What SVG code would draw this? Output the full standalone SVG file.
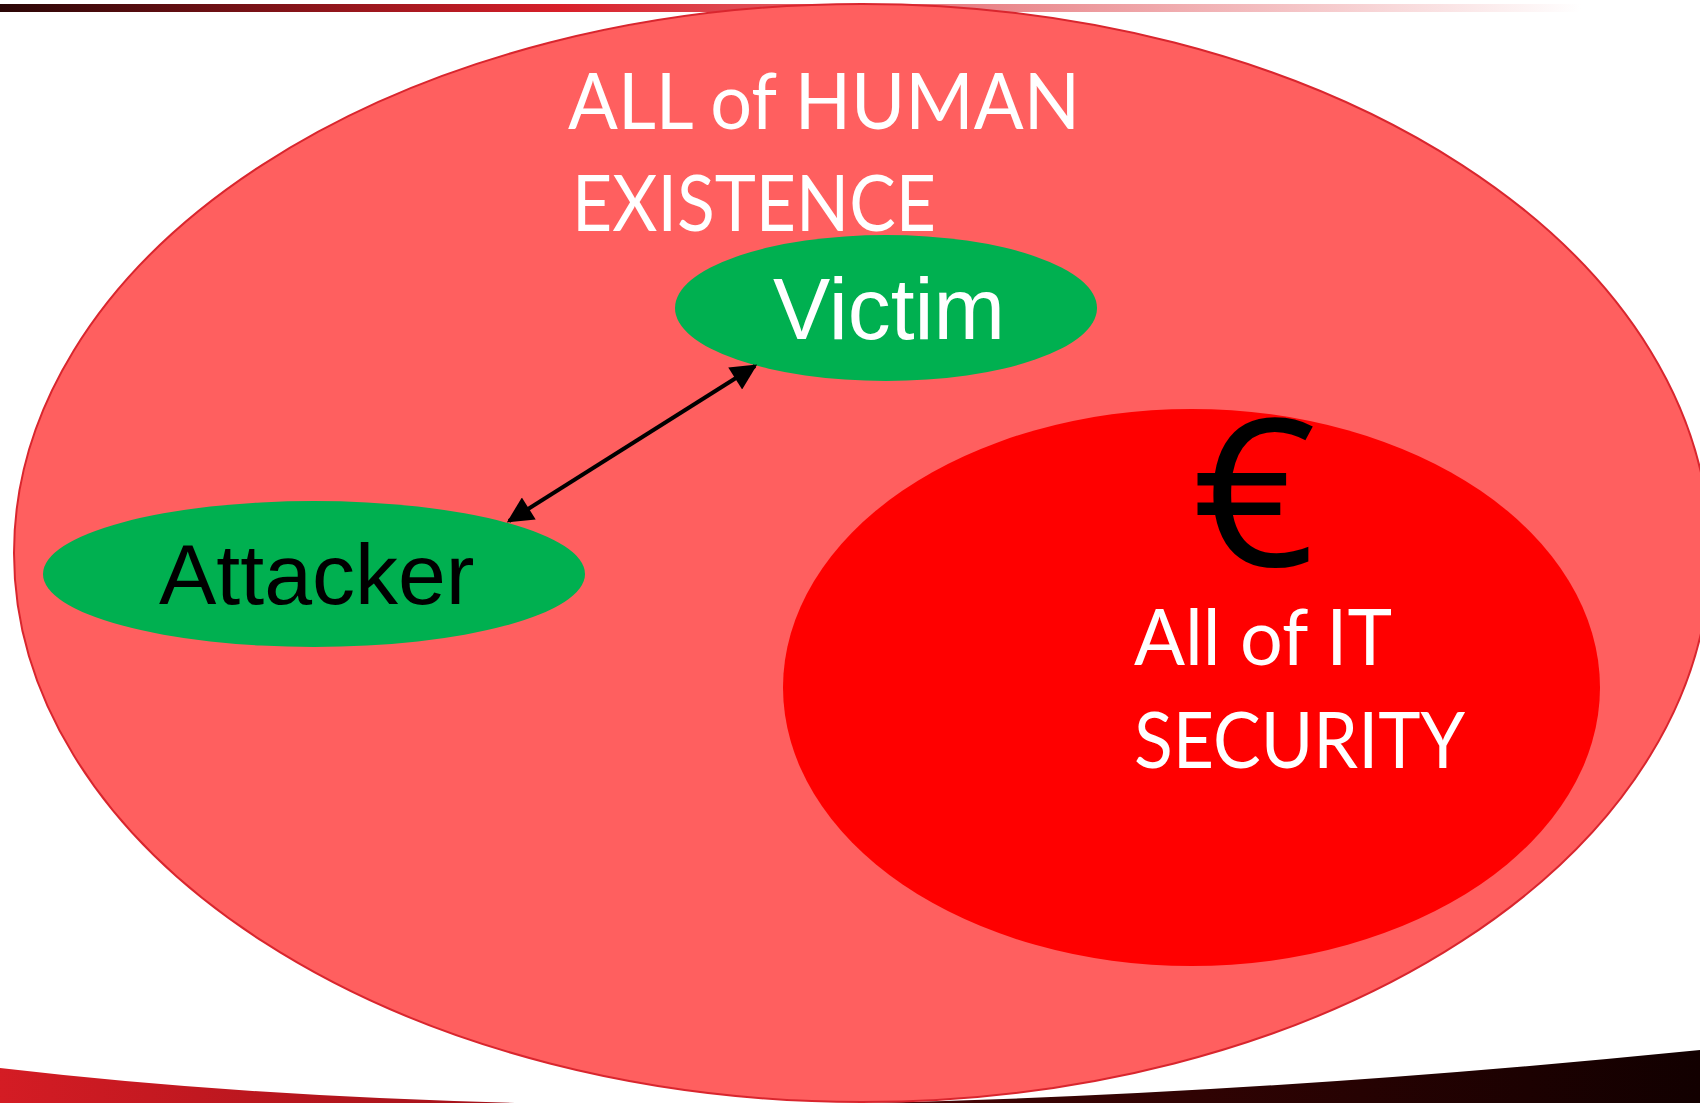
<svg xmlns="http://www.w3.org/2000/svg" width="1700" height="1103" viewBox="0 0 1700 1103">
<defs>
<style>
.cal{font-family:Lato,"Open Sans","Liberation Sans",sans-serif;fill:#fff}
.ar{font-family:"Liberation Sans",Arial,sans-serif}
.node{fill:#00B050}
</style>
<linearGradient id="topbar" x1="0" y1="0" x2="1" y2="0">
<stop offset="0" stop-color="#2a0606"/>
<stop offset="0.33" stop-color="#d8202a"/>
<stop offset="0.6" stop-color="#ea8c90"/>
<stop offset="0.93" stop-color="#ffffff"/>
</linearGradient>
<linearGradient id="botbar" x1="0" y1="0" x2="1" y2="0">
<stop offset="0" stop-color="#d41c24"/>
<stop offset="0.35" stop-color="#9a1018"/>
<stop offset="0.6" stop-color="#3a0404"/>
<stop offset="1" stop-color="#120000"/>
</linearGradient>
<marker id="ah" viewBox="0 0 10 10" refX="9" refY="5" markerWidth="7.5" markerHeight="6.5" orient="auto-start-reverse" markerUnits="strokeWidth">
<path d="M0,0 L10,5 L0,10 z" fill="#000"/>
</marker>
</defs>
<rect width="1700" height="1103" fill="#fff"/>
<rect x="0" y="4" width="1700" height="8" fill="url(#topbar)"/>
<path d="M0,1068 Q700,1150 1700,1050 L1700,1103 L0,1103 Z" fill="url(#botbar)"/>
<g id="human">
<ellipse cx="862" cy="553" rx="848" ry="549" fill="#FF5F5F" stroke="#D9262E" stroke-width="2"/>
<text class="cal" font-size="77" x="568" y="129" textLength="512" lengthAdjust="spacingAndGlyphs">ALL of HUMAN</text>
<text class="cal" font-size="77" x="572" y="231" textLength="364" lengthAdjust="spacingAndGlyphs">EXISTENCE</text>
</g>
<g id="itsec">
<ellipse cx="1191.5" cy="687.5" rx="408.5" ry="278.5" fill="#FF0000"/>
<text font-family="'Open Sans','DejaVu Sans',sans-serif" font-size="205" x="1192" y="566" fill="#000" textLength="124" lengthAdjust="spacingAndGlyphs">€</text>
<text class="cal" font-size="77" x="1134" y="665" textLength="258" lengthAdjust="spacingAndGlyphs">All of IT</text>
<text class="cal" font-size="77" x="1134" y="768" textLength="331" lengthAdjust="spacingAndGlyphs">SECURITY</text>
</g>
<g id="victim">
<ellipse class="node" cx="886" cy="308" rx="211" ry="73"/>
<text class="ar" font-size="87" x="773" y="339" fill="#fff" textLength="232" lengthAdjust="spacingAndGlyphs">Victim</text>
</g>
<g id="attacker">
<ellipse class="node" cx="314" cy="574" rx="271" ry="73"/>
<text class="ar" font-size="86" x="159" y="604" fill="#000">Attacker</text>
</g>
<g id="connectors">
<line x1="509" y1="521" x2="755" y2="366" stroke="#000" stroke-width="4" marker-start="url(#ah)" marker-end="url(#ah)"/>
</g>
</svg>
